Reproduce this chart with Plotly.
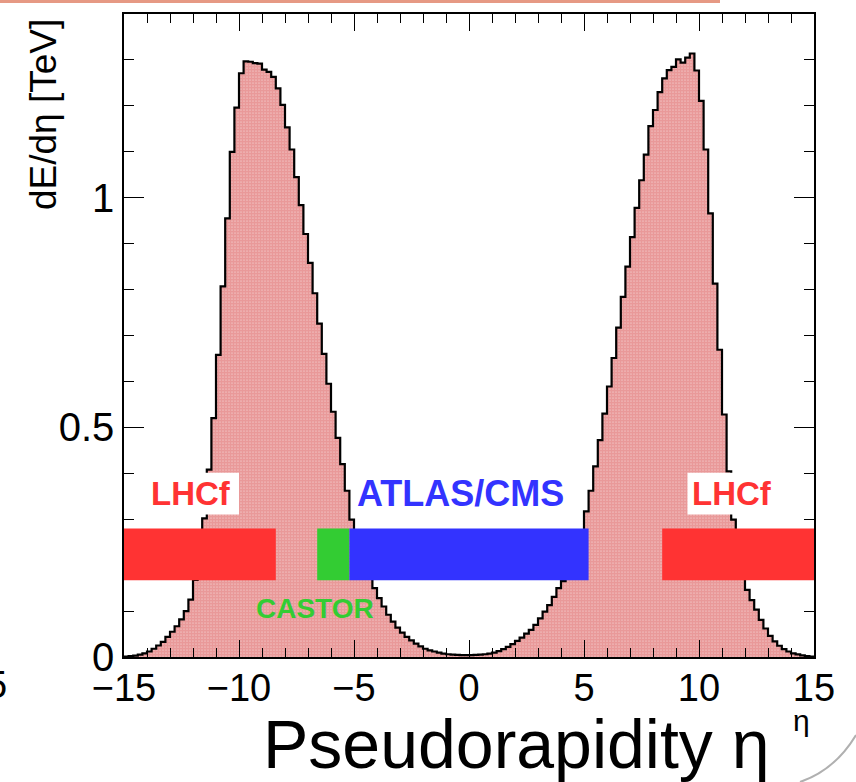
import numpy as np
import plotly.graph_objects as go

# ---------------- data ----------------
eta_min, eta_max, bin_width = -15.0, 15.0, 0.2

# dE/deta [TeV] per 0.2-wide eta bin, bins from -15.0 ... -0.2 (left edges)
dEdeta_neg = [
    0.001, 0.002, 0.003, 0.005, 0.008, 0.012, 0.018, 0.025, 0.033, 0.044,
    0.055, 0.067, 0.082, 0.100, 0.125, 0.168, 0.228, 0.302, 0.408, 0.520,
    0.658, 0.807, 0.955, 1.100, 1.196, 1.271, 1.297, 1.296, 1.293, 1.292,
    1.279, 1.274, 1.263, 1.238, 1.202, 1.153, 1.105, 1.045, 0.984, 0.921,
    0.858, 0.792, 0.726, 0.660, 0.595, 0.534, 0.477, 0.420, 0.362, 0.299,
    0.255, 0.225, 0.198, 0.174, 0.150, 0.128, 0.110, 0.092, 0.077, 0.064,
    0.053, 0.044, 0.036, 0.029, 0.023, 0.018, 0.0145, 0.012, 0.0095, 0.0075,
    0.006, 0.005, 0.0045, 0.004, 0.004,
]
# bins from 0.0 ... 14.8 (left edges)
dEdeta_pos = [
    0.004, 0.0045, 0.005, 0.006, 0.0075, 0.0097, 0.013, 0.017, 0.022, 0.028,
    0.035, 0.042, 0.051, 0.059, 0.070, 0.084, 0.099, 0.113, 0.131, 0.150,
    0.165, 0.182, 0.205, 0.235, 0.272, 0.317, 0.362, 0.415, 0.472, 0.530,
    0.589, 0.651, 0.717, 0.784, 0.850, 0.914, 0.978, 1.038, 1.094, 1.156,
    1.191, 1.230, 1.260, 1.278, 1.285, 1.301, 1.294, 1.305, 1.314, 1.277,
    1.211, 1.105, 0.966, 0.813, 0.669, 0.528, 0.404, 0.299, 0.222, 0.175,
    0.146, 0.124, 0.103, 0.081, 0.062, 0.046, 0.034, 0.0245, 0.017, 0.012,
    0.008, 0.0055, 0.0035, 0.002, 0.001,
]
dEdeta = dEdeta_neg + dEdeta_pos

x_tickvals = [-15, -10, -5, 0, 5, 10, 15]
x_ticktext = ["\u221215", "\u221210", "\u22125", "0", "5", "10", "15"]
y_tickvals = [0, 0.5, 1]
y_ticktext = ["0", "0.5", "1"]

# detector coverage bands (eta ranges)
det_names = ["LHCf", "CASTOR", "ATLAS/CMS", "LHCf"]
det_eta_lo = [-15.0, -6.6, -5.2, 8.4]
det_eta_hi = [-8.4, -5.2, 5.2, 15.0]
band_lo, band_hi = 0.167, 0.28

# ---------------- style ----------------
W, H = 856, 782
ML, MR, MT, MB = 124, 42, 14, 125
RED, GREEN, BLUE = "#ff3333", "#33cc33", "#3333ff"
det_colors = [RED, GREEN, BLUE, RED]
FONT = "Liberation Sans, Arial, Helvetica, sans-serif"

def pxx(x):
    return (x - ML) / (W - ML - MR)

def pxy(y):
    return (H - MB - y) / (H - MT - MB)

edges = np.linspace(eta_min, eta_max, len(dEdeta) + 1)
centers = 0.5 * (edges[:-1] + edges[1:])

fig = go.Figure()
fig.add_trace(go.Bar(
    x=centers, y=dEdeta, width=bin_width,
    marker=dict(color="white", line=dict(width=0),
                pattern=dict(shape=".", fgcolor="#d43434", bgcolor="white",
                             size=3, solidity=0.85, fillmode="overlay")),
    hoverinfo="skip", showlegend=False,
))
fig.add_trace(go.Scatter(
    x=edges, y=dEdeta + [dEdeta[-1]], mode="lines", line_shape="hv",
    line=dict(color="black", width=2.2), hoverinfo="skip", showlegend=False,
))

shapes = []
for lo, hi, c in zip(det_eta_lo, det_eta_hi, det_colors):
    shapes.append(dict(type="rect", xref="x", yref="y", x0=lo, x1=hi,
                       y0=band_lo, y1=band_hi, fillcolor=c,
                       line=dict(width=0), layer="above"))
# white boxes behind LHCf labels
for x0, x1 in [(-14.0, -10.0), (9.5, 13.3)]:
    shapes.append(dict(type="rect", xref="x", yref="y", x0=x0, x1=x1,
                       y0=0.31, y1=0.401, fillcolor="white",
                       line=dict(width=0), layer="above"))
# slide decoration remnants
shapes.append(dict(type="rect", xref="paper", yref="paper",
                   x0=pxx(0), x1=pxx(720), y0=pxy(3), y1=pxy(0),
                   fillcolor="rgba(220,110,80,0.7)", line=dict(width=0),
                   layer="above"))
shapes.append(dict(type="path", xref="paper", yref="paper",
                   path=f"M {pxx(856)} {pxy(735)} Q {pxx(835)} {pxy(770)} {pxx(800)} {pxy(782)}",
                   line=dict(color="#b0b0b0", width=2), layer="above"))

annotations = [
    dict(x=-12.1, y=0.356, text="<b>LHCf</b>", font=dict(size=33, color=RED, family=FONT)),
    dict(x=11.43, y=0.356, text="<b>LHCf</b>", font=dict(size=33, color=RED, family=FONT)),
    dict(x=-0.39, y=0.356, text="<b>ATLAS/CMS</b>", font=dict(size=36, color=BLUE, family=FONT)),
    dict(x=-6.7, y=0.105, text="<b>CASTOR</b>", font=dict(size=28, color=GREEN, family=FONT)),
]
for a in annotations:
    a.update(xref="x", yref="y", showarrow=False, xanchor="center", yanchor="middle")

annotations += [
    dict(xref="paper", yref="paper", x=pxx(44), y=pxy(115), text="dE/d\u03b7 [TeV]",
         textangle=-90, showarrow=False, xanchor="center", yanchor="middle",
         font=dict(size=37, color="black", family=FONT)),
    dict(xref="paper", yref="paper", x=pxx(516), y=pxy(744), text="Pseudorapidity \u03b7",
         showarrow=False, xanchor="center", yanchor="middle",
         font=dict(size=68, color="black", family=FONT)),
    dict(xref="paper", yref="paper", x=pxx(801), y=pxy(720), text="\u03b7",
         showarrow=False, xanchor="center", yanchor="middle",
         font=dict(size=30, color="black", family=FONT)),
    dict(xref="paper", yref="paper", x=pxx(9), y=pxy(685), text="5",
         showarrow=False, xanchor="right", yanchor="middle",
         font=dict(size=38, color="black", family=FONT)),
]

fig.update_layout(
    width=W, height=H,
    margin=dict(l=ML, r=MR, t=MT, b=MB, pad=0),
    paper_bgcolor="white", plot_bgcolor="white",
    bargap=0, showlegend=False,
    font=dict(family=FONT, color="black"),
    shapes=shapes, annotations=annotations,
    xaxis=dict(range=[eta_min, eta_max], tickmode="array", tickvals=x_tickvals,
               ticktext=x_ticktext, ticks="inside", ticklen=17, tickwidth=1.3,
               tickcolor="black", showline=True, linewidth=1.5, linecolor="black",
               mirror="ticks", showgrid=False, zeroline=False,
               ticklabelstandoff=-3,
               tickfont=dict(size=38, family=FONT),
               minor=dict(tickvals=list(range(-15, 16)), ticks="inside", ticklen=9,
                          tickwidth=1, tickcolor="black", showgrid=False)),
    yaxis=dict(range=[0, 1.4], tickmode="array", tickvals=y_tickvals,
               ticktext=y_ticktext, ticks="inside", ticklen=20, tickwidth=1.3,
               tickcolor="black", showline=True, linewidth=1.5, linecolor="black",
               mirror="ticks", showgrid=False, zeroline=False,
               tickfont=dict(size=40, family=FONT),
               minor=dict(tickvals=[round(0.1 * i, 1) for i in range(15)], ticks="inside",
                          ticklen=10, tickwidth=1, tickcolor="black", showgrid=False)),
)

fig.write_html("out.html", config={"displayModeBar": False},
               post_script="document.body.style.margin='0px';")
